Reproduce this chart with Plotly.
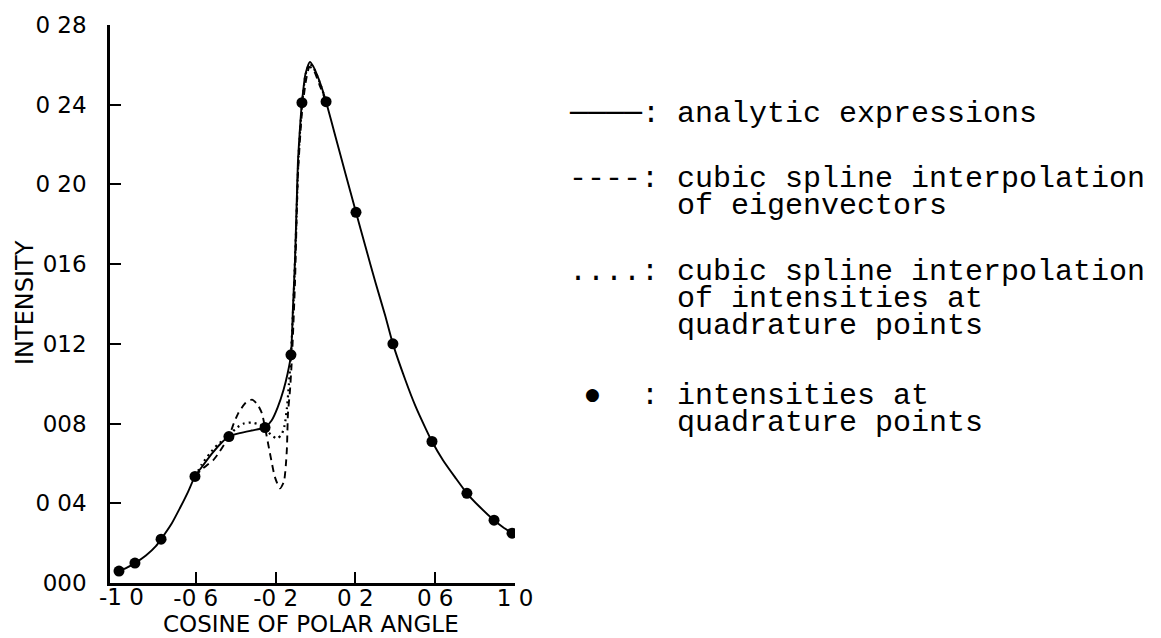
import plotly.graph_objects as go

# ---------------- data ----------------
mu_quad = [-0.985, -0.905, -0.774, -0.604, -0.434, -0.253, -0.123, -0.068,
           0.053, 0.203, 0.388, 0.584, 0.759, 0.895, 0.985]
int_quad = [0.006, 0.010, 0.022, 0.0535, 0.0735, 0.078, 0.1145, 0.241,
            0.2415, 0.186, 0.120, 0.071, 0.045, 0.0315, 0.025]

mu_analytic = [-0.985, -0.95, -0.905, -0.85, -0.80, -0.774, -0.72, -0.68, -0.64, -0.604,
               -0.56, -0.514, -0.47, -0.434, -0.38, -0.32, -0.28, -0.253, -0.22, -0.19,
               -0.16, -0.14, -0.123, -0.113, -0.103, -0.093, -0.088, -0.078, -0.068, -0.05,
               -0.028, -0.01, 0.01, 0.03, 0.053, 0.10, 0.15, 0.203, 0.25, 0.30,
               0.35, 0.388, 0.45, 0.50, 0.55, 0.584, 0.64, 0.70, 0.759, 0.82,
               0.895, 0.94, 0.985]
int_analytic = [0.006, 0.0075, 0.010, 0.0138, 0.0185, 0.022, 0.030, 0.0375, 0.0455, 0.0535,
                0.0595, 0.0655, 0.0705, 0.0735, 0.0752, 0.0765, 0.0773, 0.078, 0.0815, 0.088,
                0.097, 0.105, 0.1145, 0.138, 0.1615, 0.195, 0.2115, 0.228, 0.241, 0.2555,
                0.2615, 0.259, 0.2545, 0.249, 0.2415, 0.224, 0.2055, 0.186, 0.169, 0.151,
                0.134, 0.120, 0.102, 0.089, 0.078, 0.071, 0.0615, 0.053, 0.045, 0.0385,
                0.0315, 0.028, 0.025]

mu_eigen = [-0.604, -0.57, -0.54, -0.514, -0.48, -0.434, -0.41, -0.388, -0.35, -0.318,
            -0.29, -0.268, -0.253, -0.228, -0.203, -0.178, -0.158, -0.148, -0.143, -0.138,
            -0.128, -0.118, -0.103, -0.088, -0.068, -0.048, -0.03, -0.01, 0.02, 0.053]
int_eigen = [0.0535, 0.057, 0.0595, 0.0615, 0.066, 0.0735, 0.080, 0.085, 0.0905, 0.092,
             0.0895, 0.085, 0.078, 0.065, 0.053, 0.0475, 0.0510, 0.060, 0.068, 0.085,
             0.0965, 0.113, 0.150, 0.205, 0.236, 0.252, 0.259, 0.2575, 0.250, 0.2415]

mu_intens = [-0.604, -0.57, -0.53, -0.49, -0.434, -0.40, -0.36, -0.32, -0.28, -0.253,
             -0.225, -0.193, -0.17, -0.155, -0.143, -0.133, -0.123, -0.11, -0.098, -0.085,
             -0.068, -0.05, -0.03, -0.01, 0.02, 0.053]
int_intens = [0.0535, 0.0595, 0.065, 0.0695, 0.0735, 0.0775, 0.080, 0.0805, 0.0795, 0.078,
              0.0745, 0.0725, 0.0745, 0.079, 0.088, 0.100, 0.1145, 0.142, 0.175, 0.214,
              0.2395, 0.255, 0.2605, 0.2585, 0.2515, 0.2415]

x_tick_vals = [-0.6, -0.2, 0.2, 0.6, 1.0]
x_tick_text = ["-0 6", "-0 2", "0 2", "0 6", "1 0"]
x_first_label = "-1 0"
y_tick_vals = [0.0, 0.04, 0.08, 0.12, 0.16, 0.20, 0.24, 0.28]
y_tick_text = ["000", "0 04", "008", "012", "016", "0 20", "0 24", "0 28"]

legend_symbols = ["\u2500\u2500\u2500\u2500:", "----:", "....:"]
legend_texts = [["analytic expressions"],
                ["cubic spline interpolation", "of eigenvectors"],
                ["cubic spline interpolation", "of intensities at", "quadrature points"],
                ["intensities at", "quadrature points"]]

# ---------------- layout geometry (pixels) ----------------
W, H = 1161, 638
L, R, T, B = 110, 515, 23, 583


def px(xp):
    return (xp - L) / (R - L)


def py(yp):
    return (B - yp) / (B - T)


fig = go.Figure()
fig.add_trace(go.Scatter(x=mu_analytic, y=int_analytic, mode="lines",
                         line=dict(color="black", width=1.9, shape="spline", smoothing=0.6)))
fig.add_trace(go.Scatter(x=mu_eigen, y=int_eigen, mode="lines",
                         line=dict(color="black", width=1.9, dash="7px,5px",
                                   shape="spline", smoothing=0.6)))
fig.add_trace(go.Scatter(x=mu_intens, y=int_intens, mode="lines",
                         line=dict(color="black", width=2.2, dash="2px,4px",
                                   shape="spline", smoothing=0.6)))
fig.add_trace(go.Scatter(x=mu_quad, y=int_quad, mode="markers",
                         marker=dict(color="black", size=11)))

tickfont = dict(family="DejaVu Sans", size=23, color="black")
xtitlefont = dict(family="DejaVu Sans", size=23, color="black")
ytitlefont = dict(family="DejaVu Sans", size=24, color="black")
fig.update_layout(
    width=W, height=H,
    margin=dict(l=L, r=W - R, t=T, b=H - B, pad=0),
    paper_bgcolor="white", plot_bgcolor="white",
    showlegend=False,
    xaxis=dict(range=[-1.03, 1.0], showline=True, linecolor="black", linewidth=2.5,
               ticks="inside", ticklen=11, tickwidth=2, tickcolor="black",
               tickvals=x_tick_vals, ticktext=x_tick_text, tickfont=tickfont,
               ticklabelstandoff=-7, showgrid=False, zeroline=False),
    yaxis=dict(range=[0, 0.28], showline=True, linecolor="black", linewidth=2.5,
               ticks="inside", ticklen=11, tickwidth=2, tickcolor="black",
               tickvals=y_tick_vals, ticktext=y_tick_text, tickfont=tickfont,
               ticklabelstandoff=16, showgrid=False, zeroline=False),
)

ann = []
# first x tick label at the axis corner
ann.append(dict(x=-1.0, xref="x", y=py(597), yref="paper", text=x_first_label,
                showarrow=False, xanchor="center", yanchor="middle", xshift=6, font=tickfont))
# axis titles
ann.append(dict(x=px(311), y=py(624), xref="paper", yref="paper",
                text="COSINE OF POLAR ANGLE", showarrow=False,
                xanchor="center", yanchor="middle", font=xtitlefont))
ann.append(dict(x=px(25), y=py(302), xref="paper", yref="paper",
                text="INTENSITY", showarrow=False, textangle=-90,
                xanchor="center", yanchor="middle", font=ytitlefont))

# legend (typed key beside the plot)
MONO_SIZE = 30
LINE_PITCH = 27          # vertical distance between typed lines, px
mono = dict(family="Liberation Mono", size=MONO_SIZE, color="black")
# base font chosen so that plotly's 1.3em line spacing equals LINE_PITCH
mono_base = dict(family="Liberation Mono", size=LINE_PITCH / 1.3, color="black")
sym_x = 567
txt_x = 675
first_rows = [112, 178, 271, 395]
for i, y0 in enumerate(first_rows):
    lines = legend_texts[i]
    if i < 3:
        ann.append(dict(x=px(sym_x), y=py(y0), xref="paper", yref="paper",
                        text=legend_symbols[i], showarrow=False,
                        xanchor="left", yanchor="middle", font=mono))
    else:
        ann.append(dict(x=px(592), y=py(y0 - 2), xref="paper", yref="paper",
                        text="\u25cf", showarrow=False, xanchor="center", yanchor="middle",
                        font=dict(family="DejaVu Sans", size=17, color="black")))
        ann.append(dict(x=px(639), y=py(y0), xref="paper", yref="paper",
                        text=":", showarrow=False, xanchor="left", yanchor="middle", font=mono))
    html = "<br>".join('<span style="font-size:%dpx">%s</span>' % (MONO_SIZE, t) for t in lines)
    ymid = y0 + LINE_PITCH * (len(lines) - 1) / 2.0
    ann.append(dict(x=px(txt_x), y=py(ymid), xref="paper", yref="paper",
                    text=html, showarrow=False, align="left",
                    xanchor="left", yanchor="middle", font=mono_base))

fig.update_layout(annotations=ann)
fig.write_html("out.html")
